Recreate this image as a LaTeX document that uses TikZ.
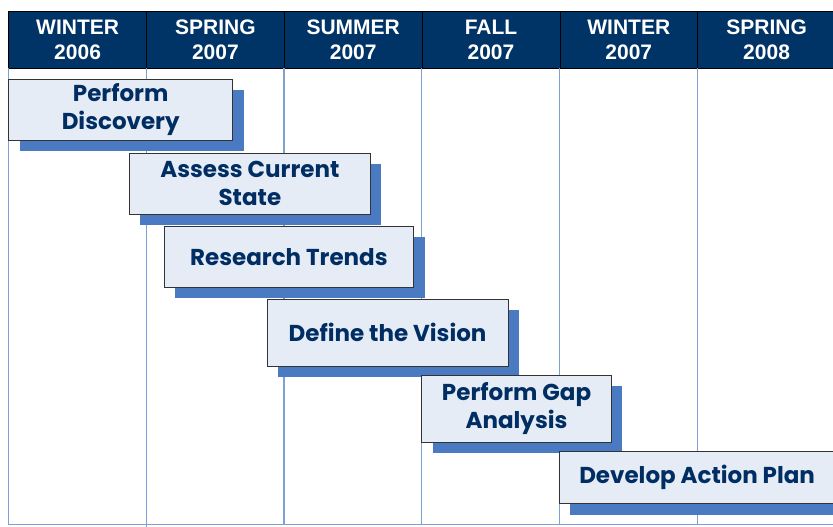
\documentclass[tikz,border=0pt]{standalone}
\usepackage{fontspec}
\setmainfont{Liberation Sans}
\newfontfamily\taskfont{Poppins}
\usetikzlibrary{shadows}

\definecolor{headnavy}{RGB}{0,51,102}
\definecolor{tasktext}{RGB}{0,45,98}
\definecolor{taskfill}{RGB}{230,236,246}
\definecolor{taskshadow}{RGB}{74,122,194}
\definecolor{gridblue}{RGB}{125,160,215}

\tikzset{
  season/.style={draw=black, fill=headnavy, text=white, line width=0.8pt,
    font=\bfseries\fontsize{21}{25}\selectfont, align=center, inner sep=0pt,
    minimum width=137.8pt, minimum height=57pt, anchor=north west},
  task/.style={draw=black!80, fill=taskfill, text=tasktext, line width=0.8pt,
    font=\taskfont\bfseries\fontsize{23}{28}\selectfont, align=center, inner sep=0pt,
    anchor=north west,
    drop shadow={shadow xshift=11pt, shadow yshift=-11pt, fill=taskshadow, opacity=1}},
  gridline/.style={draw=gridblue, line width=1.2pt},
}

\begin{document}
\begin{tikzpicture}[x=1pt, y=-1pt]
    \useasboundingbox (0,0) rectangle (833,527);
    % season header
    \foreach \name/\lab [count=\i from 0] in {w06/WINTER\\2006, sp07/SPRING\\2007,
        su07/SUMMER\\2007, fa07/FALL\\2007, w07/WINTER\\2007, sp08/SPRING\\2008}
        \node[season] (\name) at ({8.3+137.8*\i},10.7) {\lab};
    % column lines
    \foreach \name in {w06,su07,fa07,w07,sp08}
        \draw[gridline] (\name.south west) -- ++(0,455.8);
    \draw[gridline] (sp07.south west) -- ++(0,459.3);
    \draw[gridline] ([yshift=-455.8pt]w06.south west) -- ++(825,0);
    % tasks
    \node[task, minimum width=224pt, minimum height=60.5pt] (disc) at (8.3,79) {Perform\\Discovery};
    \node[task, minimum width=241pt, minimum height=61.3pt] (state) at (129,152.7) {Assess Current\\State};
    \node[task, minimum width=249.6pt, minimum height=61pt] (trend) at (163.7,225.7) {Research Trends};
    \node[task, minimum width=241pt, minimum height=67.3pt] (vision) at (266.7,298.7) {Define the Vision};
    \node[task, minimum width=189.7pt, minimum height=67.3pt] (gap) at (421.3,374.7) {Perform Gap\\Analysis};
    \node[task, minimum width=275.4pt, minimum height=52.6pt] (plan) at (559,450.7) {Develop Action Plan};
\end{tikzpicture}
\end{document}
